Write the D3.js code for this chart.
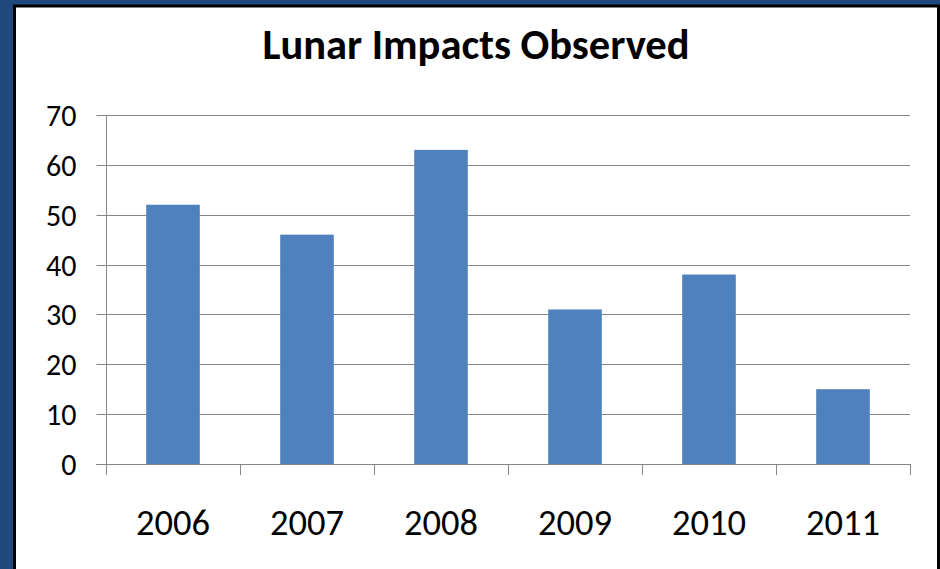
<!DOCTYPE html>
<html>
<head>
<meta charset="utf-8">
<script src="https://cdn.jsdelivr.net/npm/d3@7"></script>
<style>
  html, body { margin: 0; padding: 0; background: #1f497d; }
  svg { display: block; }
  text { font-family: Calibri, Carlito, Lato, sans-serif; fill: #000; }
</style>
</head>
<body>
<div id="chart"></div>
<script>
const years = ['2006', '2007', '2008', '2009', '2010', '2011'];
const impacts = [52, 46, 63, 31, 38, 15];
const yTicks = [0, 10, 20, 30, 40, 50, 60, 70];

const width = 940;
const height = 569;

const svg = d3.select('#chart')
  .append('svg')
  .attr('width', width)
  .attr('height', height);

// blue slide background + white chart frame
svg.append('rect')
  .attr('width', width)
  .attr('height', height)
  .attr('fill', '#1f497d');

svg.append('rect')
  .attr('x', 14.5)
  .attr('y', 6)
  .attr('width', 924)
  .attr('height', 620)
  .attr('fill', '#fff')
  .attr('stroke', '#000')
  .attr('stroke-width', 3);

const plot = { left: 106, right: 910, top: 115, bottom: 464 };

const x = d3.scaleBand()
  .domain(years)
  .range([plot.left, plot.right])
  .paddingInner(0.6)
  .paddingOuter(0.3);

const y = d3.scaleLinear()
  .domain([0, 70])
  .range([plot.bottom, plot.top]);

// gridlines
svg.append('g')
  .selectAll('line')
  .data(yTicks.filter(d => d > 0))
  .join('line')
  .attr('x1', plot.left)
  .attr('x2', plot.right)
  .attr('y1', d => Math.round(y(d)) + 0.5)
  .attr('y2', d => Math.round(y(d)) + 0.5)
  .attr('stroke', '#868686')
  .attr('stroke-width', 1);

// bars
svg.append('g')
  .selectAll('rect')
  .data(impacts)
  .join('rect')
  .attr('x', (d, i) => x(years[i]))
  .attr('y', d => y(d))
  .attr('width', x.bandwidth())
  .attr('height', d => y(0) - y(d))
  .attr('fill', '#4f81bd');

// y axis
const yAxis = svg.append('g')
  .attr('transform', `translate(${plot.left + 0.5},0)`)
  .call(d3.axisLeft(y).tickValues(yTicks).tickSize(10).tickPadding(20));
yAxis.select('.domain').attr('stroke', '#868686').attr('d', `M0,${plot.top}V${plot.bottom}`);
yAxis.selectAll('.tick line').attr('stroke', '#868686');
yAxis.selectAll('.tick').attr('transform', d => `translate(0,${Math.round(y(d)) + 0.5})`);
yAxis.selectAll('.tick text')
  .attr('font-size', 30)
  .attr('dy', '0.34em')
  .attr('font-family', null);

// x axis: ticks between categories
const xAxisG = svg.append('g');
xAxisG.append('line')
  .attr('x1', plot.left - 10)
  .attr('x2', plot.right)
  .attr('y1', plot.bottom + 0.5)
  .attr('y2', plot.bottom + 0.5)
  .attr('stroke', '#868686');

const step = (plot.right - plot.left) / years.length;
xAxisG.selectAll('line.sep')
  .data(d3.range(years.length + 1))
  .join('line')
  .attr('class', 'sep')
  .attr('x1', i => Math.round(plot.left + i * step) + 0.5)
  .attr('x2', i => Math.round(plot.left + i * step) + 0.5)
  .attr('y1', plot.bottom)
  .attr('y2', plot.bottom + 11)
  .attr('stroke', '#868686');

xAxisG.selectAll('text')
  .data(years)
  .join('text')
  .attr('x', d => x(d) + x.bandwidth() / 2)
  .attr('y', 535)
  .attr('text-anchor', 'middle')
  .attr('font-size', 36.5)
  .text(d => d);

// title
svg.append('text')
  .attr('x', 476)
  .attr('y', 59)
  .attr('text-anchor', 'middle')
  .attr('font-size', 42.5)
  .attr('font-weight', 'bold')
  .text('Lunar Impacts Observed');
</script>
</body>
</html>
